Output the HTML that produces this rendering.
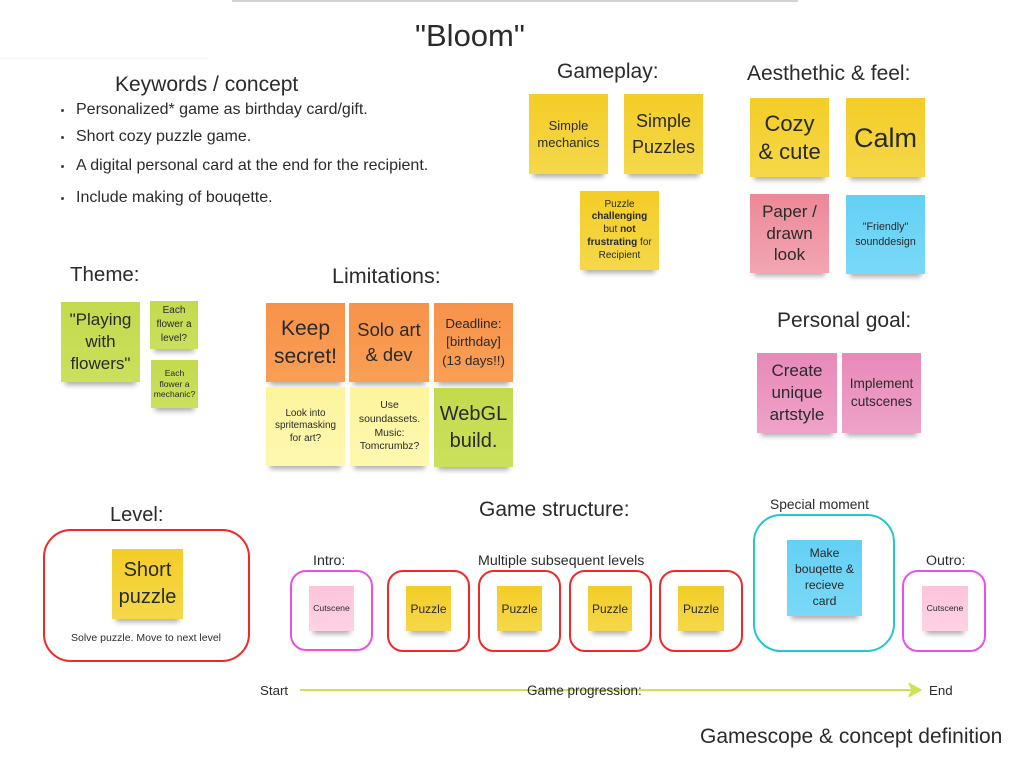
<!DOCTYPE html>
<html><head><meta charset="utf-8">
<style>
*{margin:0;padding:0;box-sizing:border-box}
body{width:1023px;height:760px;background:#fff;position:relative;overflow:hidden;font-family:"Liberation Sans",Arial,sans-serif;color:#2b2b2b}
.t{position:absolute;white-space:nowrap}
.s{position:absolute;display:flex;align-items:center;justify-content:center;text-align:center;color:#2a2a2a;box-shadow:0 7px 5px -4px rgba(0,0,0,0.33)}
.s>div{white-space:nowrap}
.y{background:linear-gradient(#f3cd27,#f5d84a)}
.o{background:linear-gradient(#f8924a,#f99f55)}
.p{background:linear-gradient(#fdf49c,#fef8b0)}
.g{background:linear-gradient(#c3da4e,#cbe05c)}
.pk{background:linear-gradient(#ec8898,#f2a6b2)}
.b{background:linear-gradient(#64d0f5,#7ad9f7)}
.m{background:linear-gradient(#e889b9,#eea3c8)}
.lp{background:linear-gradient(#fdc4dc,#ffd2e4)}
.r{position:absolute;border:2px solid #f02828}
.mg{position:absolute;border:2px solid #ea4fea}
.c{position:absolute;border:2px solid #24c6d0}
.dot{position:absolute;width:3px;height:3px;border-radius:50%;background:#444}
</style></head><body>

<div style="position:absolute;left:232px;top:0;width:566px;height:2px;background:#d2d2d2"></div>
<div style="position:absolute;left:0;top:58px;width:210px;height:1px;background:#f7f7f7"></div>

<div class="t" style="left:415px;top:17px;font-size:31px;line-height:38px">"Bloom"</div>

<div class="t" style="left:115px;top:73px;font-size:21px;line-height:24px">Keywords / concept</div>
<div class="dot" style="left:61px;top:109px"></div>
<div class="dot" style="left:61px;top:136px"></div>
<div class="dot" style="left:61px;top:165px"></div>
<div class="dot" style="left:61px;top:197px"></div>
<div class="t" style="left:76px;top:100px;font-size:16px;line-height:20px">Personalized* game as birthday card/gift.</div>
<div class="t" style="left:76px;top:127px;font-size:16px;line-height:20px">Short cozy puzzle game.</div>
<div class="t" style="left:76px;top:156px;font-size:16px;line-height:20px">A digital personal card at the end for the recipient.</div>
<div class="t" style="left:76px;top:188px;font-size:16px;line-height:20px">Include making of bouqette.</div>

<div class="t" style="left:557px;top:60px;font-size:21px;line-height:24px">Gameplay:</div>
<div class="t" style="left:747px;top:62px;font-size:21px;line-height:24px">Aesthethic &amp; feel:</div>

<div class="s y" style="left:529px;top:94px;width:79px;height:80px;font-size:13px;line-height:17px"><div>Simple<br>mechanics</div></div>
<div class="s y" style="left:624px;top:94px;width:79px;height:80px;font-size:18px;line-height:26px"><div>Simple<br>Puzzles</div></div>
<div class="s y" style="left:580px;top:191px;width:79px;height:79px;font-size:10px;line-height:12.8px"><div>Puzzle<br><b>challenging</b><br>but <b>not</b><br><b>frustrating</b> for<br>Recipient</div></div>

<div class="s y" style="left:750px;top:98px;width:79px;height:79px;font-size:22px;line-height:28px"><div>Cozy<br>&amp; cute</div></div>
<div class="s y" style="left:846px;top:98px;width:79px;height:79px;font-size:27px;line-height:30px"><div>Calm</div></div>
<div class="s pk" style="left:750px;top:194px;width:79px;height:79px;font-size:17px;line-height:21.7px"><div>Paper /<br>drawn<br>look</div></div>
<div class="s b" style="left:846px;top:195px;width:79px;height:79px;font-size:10.7px;line-height:14.3px"><div>"Friendly"<br>sounddesign</div></div>

<div class="t" style="left:70px;top:263px;font-size:20.5px;line-height:24px">Theme:</div>
<div class="t" style="left:332px;top:264px;font-size:21.5px;line-height:24px">Limitations:</div>

<div class="s g" style="left:61px;top:302px;width:79px;height:80px;font-size:17px;line-height:21.7px"><div>"Playing<br>with<br>flowers"</div></div>
<div class="s g" style="left:150px;top:301px;width:48px;height:48px;font-size:10px;line-height:13.7px"><div>Each<br>flower a<br>level?</div></div>
<div class="s g" style="left:151px;top:360px;width:47px;height:48px;font-size:8.6px;line-height:10.8px"><div>Each<br>flower a<br>mechanic?</div></div>

<div class="s o" style="left:266px;top:303px;width:79px;height:79px;font-size:21px;line-height:28px"><div>Keep<br>secret!</div></div>
<div class="s o" style="left:349px;top:303px;width:80px;height:79px;font-size:18.4px;line-height:24.3px"><div>Solo art<br>&amp; dev</div></div>
<div class="s o" style="left:434px;top:303px;width:79px;height:79px;font-size:13.3px;line-height:18.3px"><div>Deadline:<br>[birthday]<br>(13 days!!)</div></div>
<div class="s p" style="left:266px;top:387px;width:79px;height:79px;font-size:9.9px;line-height:12.5px"><div>Look into<br>spritemasking<br>for art?</div></div>
<div class="s p" style="left:350px;top:387px;width:79px;height:79px;font-size:10.4px;line-height:13.9px"><div>Use<br>soundassets.<br>Music:<br>Tomcrumbz?</div></div>
<div class="s g" style="left:434px;top:388px;width:79px;height:79px;font-size:20px;line-height:26.7px"><div>WebGL<br>build.</div></div>

<div class="t" style="left:777px;top:309px;font-size:21px;line-height:24px">Personal goal:</div>
<div class="s m" style="left:757px;top:353px;width:80px;height:80px;font-size:17px;line-height:22px"><div>Create<br>unique<br>artstyle</div></div>
<div class="s m" style="left:842px;top:353px;width:79px;height:80px;font-size:13.6px;line-height:17.7px"><div>Implement<br>cutscenes</div></div>

<div class="t" style="left:110px;top:503px;font-size:20px;line-height:24px">Level:</div>
<div class="r" style="left:43px;top:529px;width:207px;height:133px;border-radius:28px"></div>
<div class="s y" style="left:112px;top:549px;width:71px;height:70px;font-size:20px;line-height:26.7px"><div>Short<br>puzzle</div></div>
<div class="t" style="left:71px;top:631px;font-size:10.5px;line-height:14px">Solve puzzle. Move to next level</div>

<div class="t" style="left:479px;top:498px;font-size:21px;line-height:24px">Game structure:</div>
<div class="t" style="left:478px;top:552px;font-size:14.2px;line-height:18px">Multiple subsequent levels</div>
<div class="t" style="left:313px;top:552px;font-size:14.2px;line-height:18px">Intro:</div>
<div class="t" style="left:926px;top:552px;font-size:14.2px;line-height:18px">Outro:</div>
<div class="t" style="left:770px;top:496px;font-size:13.8px;line-height:18px">Special moment</div>

<div class="mg" style="left:290px;top:570px;width:83px;height:81px;border-radius:16px"></div>
<div class="s lp" style="left:309px;top:586px;width:45px;height:45px;font-size:8.7px;line-height:11px"><div>Cutscene</div></div>

<div class="r" style="left:387px;top:570px;width:83px;height:82px;border-radius:16px"></div>
<div class="r" style="left:478px;top:570px;width:83px;height:82px;border-radius:16px"></div>
<div class="r" style="left:569px;top:570px;width:83px;height:82px;border-radius:16px"></div>
<div class="r" style="left:659px;top:570px;width:84px;height:82px;border-radius:16px"></div>
<div class="s y" style="left:406px;top:586px;width:45px;height:45px;font-size:12px;line-height:14px"><div>Puzzle</div></div>
<div class="s y" style="left:497px;top:586px;width:45px;height:45px;font-size:12px;line-height:14px"><div>Puzzle</div></div>
<div class="s y" style="left:588px;top:586px;width:44px;height:45px;font-size:12px;line-height:14px"><div>Puzzle</div></div>
<div class="s y" style="left:678px;top:586px;width:46px;height:45px;font-size:12px;line-height:14px"><div>Puzzle</div></div>

<div class="c" style="left:753px;top:514px;width:142px;height:138px;border-radius:28px"></div>
<div class="s b" style="left:787px;top:540px;width:75px;height:76px;font-size:12.2px;line-height:15.9px"><div>Make<br>bouqette &amp;<br>recieve<br>card</div></div>

<div class="mg" style="left:902px;top:570px;width:84px;height:82px;border-radius:16px"></div>
<div class="s lp" style="left:922px;top:586px;width:46px;height:45px;font-size:8.7px;line-height:11px"><div>Cutscene</div></div>

<svg style="position:absolute;left:0;top:0" width="1023" height="760">
<line x1="300" y1="690" x2="914" y2="690" stroke="#cbe452" stroke-width="2"/>
<path d="M921,690 L909,683.5 L912.5,690 L909,696.5 Z" fill="#cbe452" stroke="#cbe452" stroke-width="1.5" stroke-linejoin="round"/>
</svg>
<div class="t" style="left:260px;top:682px;font-size:13.3px;line-height:18px">Start</div>
<div class="t" style="left:929px;top:682px;font-size:13.3px;line-height:18px">End</div>
<div class="t" style="left:527px;top:682px;font-size:13.5px;line-height:18px">Game progression:</div>

<div class="t" style="left:700px;top:725px;font-size:21px;line-height:24px">Gamescope &amp; concept definition</div>

</body></html>
